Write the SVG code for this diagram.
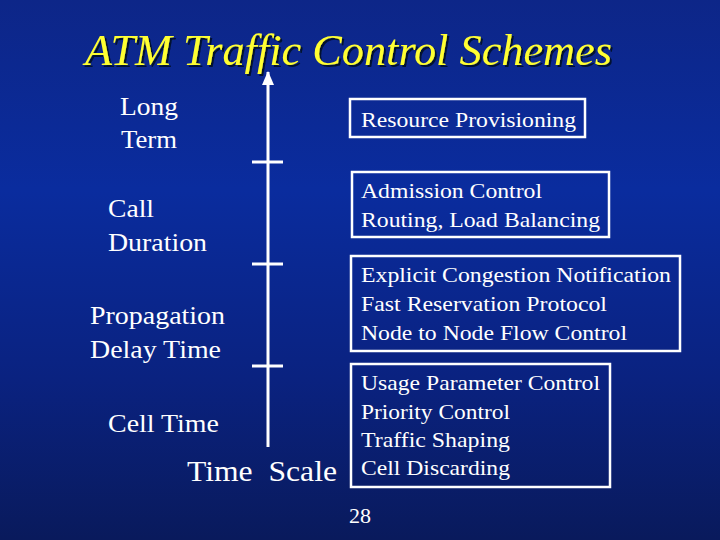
<svg xmlns="http://www.w3.org/2000/svg" width="720" height="540" viewBox="0 0 720 540">
  <defs>
    <linearGradient id="bg" x1="0" y1="0" x2="0" y2="1">
      <stop offset="0" stop-color="#0d2688"/>
      <stop offset="0.35" stop-color="#0a2c9e"/>
      <stop offset="0.7" stop-color="#0a2280"/>
      <stop offset="1" stop-color="#091a5c"/>
    </linearGradient>
    <marker id="arrow" viewBox="0 0 14 12" refX="13" refY="6" markerWidth="14" markerHeight="12" markerUnits="userSpaceOnUse" orient="auto">
      <path d="M0,0 L14,6 L0,12 Z" fill="#ffffff"/>
    </marker>
    <filter id="shadow" x="-10%" y="-50%" width="120%" height="200%">
      <feDropShadow dx="2" dy="2" stdDeviation="0.6" flood-color="#000722" flood-opacity="0.85"/>
    </filter>
  </defs>
  <style>
    text { font-family: "Liberation Serif", "Times New Roman", Times, serif; }
    .t { fill: #ffffff; }
    .lbl { font-size: 25px; }
    .box { fill: none; stroke: #ffffff; stroke-width: 2.5; }
    .bt { font-size: 21px; }
    .axis { stroke: #ffffff; stroke-width: 3; fill: none; }
    .title { font-style: italic; font-size: 44px; fill: #ffff33; }
  </style>
  <rect x="0" y="0" width="720" height="540" fill="url(#bg)"/>

  <g id="title" filter="url(#shadow)">
    <text class="title" x="85" y="65" textLength="527" lengthAdjust="spacingAndGlyphs">ATM Traffic Control Schemes</text>
  </g>

  <g id="connectors">
    <line class="axis" x1="268" y1="447" x2="268" y2="72" marker-end="url(#arrow)"/>
    <line class="axis" x1="252" y1="162" x2="283" y2="162"/>
    <line class="axis" x1="252" y1="264" x2="283" y2="264"/>
    <line class="axis" x1="252" y1="366" x2="283" y2="366"/>
  </g>

  <g id="label-long-term">
    <text class="t lbl" x="120" y="115" textLength="58" lengthAdjust="spacingAndGlyphs">Long</text>
    <text class="t lbl" x="121" y="148" textLength="56" lengthAdjust="spacingAndGlyphs">Term</text>
  </g>
  <g id="label-call-duration">
    <text class="t lbl" x="108" y="217" textLength="46" lengthAdjust="spacingAndGlyphs">Call</text>
    <text class="t lbl" x="108" y="251" textLength="99" lengthAdjust="spacingAndGlyphs">Duration</text>
  </g>
  <g id="label-propagation">
    <text class="t lbl" x="90" y="324" textLength="135" lengthAdjust="spacingAndGlyphs">Propagation</text>
    <text class="t lbl" x="90" y="358" textLength="131" lengthAdjust="spacingAndGlyphs">Delay Time</text>
  </g>
  <g id="label-cell-time">
    <text class="t lbl" x="108" y="432" textLength="111" lengthAdjust="spacingAndGlyphs">Cell Time</text>
  </g>
  <g id="label-time-scale">
    <text class="t" x="187" y="481" font-size="29" textLength="150" lengthAdjust="spacingAndGlyphs" xml:space="preserve">Time  Scale</text>
  </g>

  <g id="box-resource">
    <rect class="box" x="350" y="99" width="235" height="38"/>
    <text class="t bt" x="361" y="127" textLength="215" lengthAdjust="spacingAndGlyphs">Resource Provisioning</text>
  </g>
  <g id="box-admission">
    <rect class="box" x="352" y="172" width="257" height="65"/>
    <text class="t bt" x="361" y="198" textLength="181" lengthAdjust="spacingAndGlyphs">Admission Control</text>
    <text class="t bt" x="361" y="227" textLength="239" lengthAdjust="spacingAndGlyphs">Routing, Load Balancing</text>
  </g>
  <g id="box-congestion">
    <rect class="box" x="351" y="256" width="329" height="95"/>
    <text class="t bt" x="361" y="282" textLength="310" lengthAdjust="spacingAndGlyphs">Explicit Congestion Notification</text>
    <text class="t bt" x="361" y="311" textLength="246" lengthAdjust="spacingAndGlyphs">Fast Reservation Protocol</text>
    <text class="t bt" x="361" y="340" textLength="266" lengthAdjust="spacingAndGlyphs">Node to Node Flow Control</text>
  </g>
  <g id="box-usage">
    <rect class="box" x="351" y="364" width="259" height="123"/>
    <text class="t bt" x="361" y="390" textLength="239" lengthAdjust="spacingAndGlyphs">Usage Parameter Control</text>
    <text class="t bt" x="361" y="419" textLength="149" lengthAdjust="spacingAndGlyphs">Priority Control</text>
    <text class="t bt" x="361" y="447" textLength="149" lengthAdjust="spacingAndGlyphs">Traffic Shaping</text>
    <text class="t bt" x="361" y="475" textLength="149" lengthAdjust="spacingAndGlyphs">Cell Discarding</text>
  </g>

  <g id="page-number">
    <text class="t" x="349" y="523" font-size="21" textLength="22" lengthAdjust="spacingAndGlyphs">28</text>
  </g>
</svg>
